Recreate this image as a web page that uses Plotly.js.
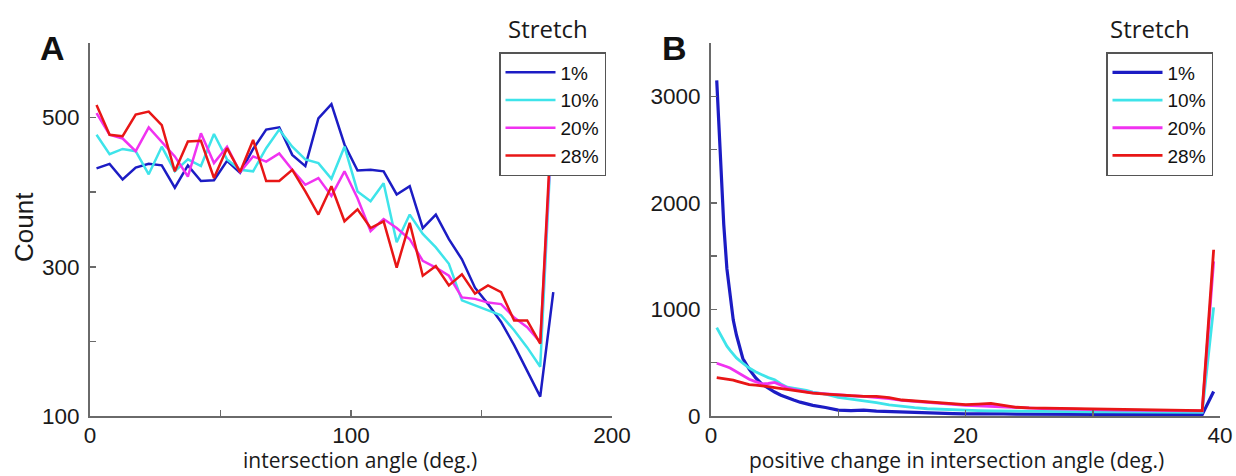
<!DOCTYPE html>
<html>
<head>
<meta charset="utf-8">
<script src="https://cdn.plot.ly/plotly-3.0.1.min.js"></script>
<style>html,body{margin:0;padding:0;background:#fff;}#chart{width:1236px;height:476px;}</style>
</head>
<body>
<div id="chart"></div>
<script>
// ---------- Panel A: intersection angle histogram ----------
const angleX = [2.5, 7.5, 12.5, 17.5, 22.5, 27.5, 32.5, 37.5, 42.5, 47.5, 52.5, 57.5,
  62.5, 67.5, 72.5, 77.5, 82.5, 87.5, 92.5, 97.5, 102.5, 107.5, 112.5, 117.5,
  122.5, 127.5, 132.5, 137.5, 142.5, 147.5, 152.5, 157.5, 162.5, 167.5, 172.5, 177.5];
const angleS1 = [432, 438, 417, 433, 438, 436, 406, 436, 415, 416, 442, 426,
  458, 484, 487, 450, 435, 499, 518, 464, 429, 430, 428, 397,
  408, 352, 370, 337, 310, 272, 250, 226, 195, 160, 126, 266];
const angleS10 = [477, 451, 458, 455, 424, 461, 428, 444, 435, 478, 444, 430,
  428, 459, 484, 461, 444, 439, 418, 461, 401, 388, 412, 333,
  370, 344, 326, 304, 255, 248, 241, 235, 215, 192, 166, 520];
const angleS20 = [506, 477, 472, 455, 487, 468, 448, 421, 479, 439, 461, 427,
  448, 441, 452, 430, 410, 419, 395, 428, 392, 348, 364, 352,
  337, 308, 299, 288, 259, 257, 252, 250, 232, 219, 199, 520];
const angleS28 = [517, 477, 475, 504, 508, 490, 428, 468, 469, 419, 459, 427,
  470, 415, 415, 430, 401, 370, 408, 361, 377, 352, 361, 299,
  359, 288, 301, 275, 290, 264, 275, 266, 228, 228, 197, 540];

// ---------- Panel B: positive change in intersection angle ----------
const changeX = [0.45, 0.75, 1, 1.25, 1.5, 1.75, 2, 2.25, 2.5, 3, 3.5, 4, 4.5, 5, 5.5, 6, 6.5, 7, 7.5, 8,
  9, 10, 11, 12, 13, 14, 15, 16, 17, 18, 19, 20, 21, 22, 23, 24, 25, 26, 27, 28, 29, 30,
  31, 32, 33, 34, 35, 36, 37, 38, 38.6, 39.5];
const changeS1 = [3150, 2400, 1800, 1380, 1110, 900, 760, 640, 540, 440, 360, 300, 260, 225, 195, 170, 150, 130, 115, 100,
  80, 55, 50, 55, 45, 40, 35, 32, 28, 25, 22, 20, 22, 18, 20, 18, 17, 16, 18, 15, 15, 16,
  14, 15, 14, 14, 13, 14, 13, 13, 13, 230];
const changeS10 = [830, 760, 700, 655, 615, 575, 545, 520, 495, 450, 415, 385, 360, 340, 300, 270, 262, 250, 240, 225,
  205, 175, 160, 145, 125, 105, 90, 78, 68, 62, 56, 52, 50, 48, 46, 44, 42, 42, 40, 40, 39, 38,
  38, 37, 37, 36, 36, 35, 35, 35, 35, 1020];
const changeS20 = [495, 485, 472, 462, 450, 432, 412, 392, 375, 345, 322, 302, 305, 315, 290, 265, 250, 236, 226, 216,
  205, 196, 190, 184, 175, 164, 146, 136, 126, 117, 110, 101, 96, 90, 84, 76, 72, 70, 68, 64, 62, 60,
  58, 56, 54, 53, 52, 50, 50, 49, 49, 1450];
const changeS28 = [360, 356, 352, 348, 342, 336, 328, 318, 308, 295, 290, 286, 276, 266, 258, 248, 238, 230, 220, 214,
  205, 196, 192, 184, 185, 172, 150, 140, 132, 122, 116, 106, 112, 118, 100, 82, 76, 74, 72, 72, 66, 64,
  60, 58, 56, 55, 53, 51, 50, 50, 50, 1560];

const seriesNames = ['1%', '10%', '20%', '28%'];
const seriesColors = ['#1c1cc4', '#3ee4ea', '#f032f0', '#e81616'];

const angleTickVals = [0, 50, 100, 150, 200];
const angleTickText = ['0', '', '100', '', '200'];
const countTickValsA = [100, 200, 300, 400, 500, 600];
const countTickTextA = ['100', '', '300', '', '500', ''];
const changeTickVals = [0, 10, 20, 30, 40];
const changeTickText = ['0', '', '20', '', '40'];
const countTickValsB = [0, 500, 1000, 1500, 2000, 2500, 3000, 3500];
const countTickTextB = ['0', '', '1000', '', '2000', '', '3000', ''];

const aSeries = [angleS1, angleS10, angleS20, angleS28];
const bSeries = [changeS1, changeS10, changeS20, changeS28];

const traces = [];
aSeries.forEach((ys, i) => traces.push({
  type: 'scatter', mode: 'lines', x: angleX, y: ys, name: seriesNames[i],
  xaxis: 'x', yaxis: 'y', legend: 'legend',
  line: {color: seriesColors[i], width: 2.5}
}));
bSeries.forEach((ys, i) => traces.push({
  type: 'scatter', mode: 'lines', x: changeX, y: ys, name: seriesNames[i],
  xaxis: 'x2', yaxis: 'y2', legend: 'legend2',
  line: {color: seriesColors[i], width: i === 0 ? 3.2 : 2.8}
}));

const W = 1236, H = 476;
const FONT = 'Arial, "Liberation Sans", sans-serif';
const axisCommon = {
  ticks: 'inside', ticklen: 6, tickwidth: 1.5, tickcolor: '#6a6a6a',
  showline: true, linecolor: '#6a6a6a', linewidth: 2,
  showgrid: false, zeroline: false, mirror: false, fixedrange: true,
  tickmode: 'array'
};
const yDom = [(H - 416) / H, (H - 43) / H];

function legendAt(xRight) {
  return {
    x: xRight / W, xanchor: 'right', yanchor: 'top', y: 1 - 52 / H,
    bgcolor: '#ffffff', bordercolor: '#555555', borderwidth: 1.5,
    font: {family: FONT, size: 19, color: '#111111'},
    tracegroupgap: 0, itemwidth: 50, itemclick: false, itemdoubleclick: false
  };
}
function tf() { return {family: FONT, size: 22.5, color: '#1a1a1a'}; }

const labFont = {family: '"Open Sans", sans-serif', size: 21, color: '#1a1a1a'};

const layout = {
  width: W, height: H,
  margin: {l: 0, r: 0, t: 0, b: 0},
  paper_bgcolor: '#ffffff', plot_bgcolor: '#ffffff',
  showlegend: true,
  xaxis: Object.assign({}, axisCommon, {domain: [90 / W, 612 / W], range: [0, 200], anchor: 'y',
    tickvals: angleTickVals, ticktext: angleTickText, tickfont: tf(), ticklabelstandoff: -2}),
  yaxis: Object.assign({}, axisCommon, {domain: yDom, range: [100, 600], anchor: 'x',
    tickvals: countTickValsA, ticktext: countTickTextA, ticklabelstandoff: 4, tickfont: tf()}),
  xaxis2: Object.assign({}, axisCommon, {domain: [711 / W, 1220 / W], range: [0, 40], anchor: 'y2',
    tickvals: changeTickVals, ticktext: changeTickText, tickfont: tf(), ticklabelstandoff: -2}),
  yaxis2: Object.assign({}, axisCommon, {domain: yDom, range: [0, 3500], anchor: 'x2',
    tickvals: countTickValsB, ticktext: countTickTextB, ticklabelstandoff: 4, tickfont: tf()}),
  legend: legendAt(606),
  legend2: legendAt(1213),
  annotations: [
    {text: '<b>A</b>', x: 52 / W, y: 1 - 48 / H, xref: 'paper', yref: 'paper', showarrow: false,
      xanchor: 'center', yanchor: 'middle', font: {family: FONT, size: 34, color: '#111'}},
    {text: '<b>B</b>', x: 674 / W, y: 1 - 48 / H, xref: 'paper', yref: 'paper', showarrow: false,
      xanchor: 'center', yanchor: 'middle', font: {family: FONT, size: 34, color: '#111'}},
    {text: 'Stretch', x: 548 / W, y: 1 - 28 / H, xref: 'paper', yref: 'paper', showarrow: false,
      xanchor: 'center', yanchor: 'middle', font: {family: '"Open Sans", sans-serif', size: 24, color: '#1a1a1a'}},
    {text: 'Stretch', x: 1150 / W, y: 1 - 28 / H, xref: 'paper', yref: 'paper', showarrow: false,
      xanchor: 'center', yanchor: 'middle', font: {family: '"Open Sans", sans-serif', size: 24, color: '#1a1a1a'}},
    {text: 'Count', x: 24 / W, y: 1 - 227 / H, xref: 'paper', yref: 'paper', showarrow: false, textangle: -90,
      xanchor: 'center', yanchor: 'middle', font: {family: FONT, size: 26, color: '#1a1a1a'}},
    {text: 'intersection angle (deg.)', x: 360 / W, y: 1 - 460 / H, xref: 'paper', yref: 'paper', showarrow: false,
      xanchor: 'center', yanchor: 'middle', font: labFont},
    {text: 'positive change in intersection angle (deg.)', x: 956 / W, y: 1 - 460 / H, xref: 'paper', yref: 'paper', showarrow: false,
      xanchor: 'center', yanchor: 'middle', font: labFont}
  ]
};

Plotly.newPlot('chart', traces, layout, {displayModeBar: false, staticPlot: true});
</script>
</body>
</html>
